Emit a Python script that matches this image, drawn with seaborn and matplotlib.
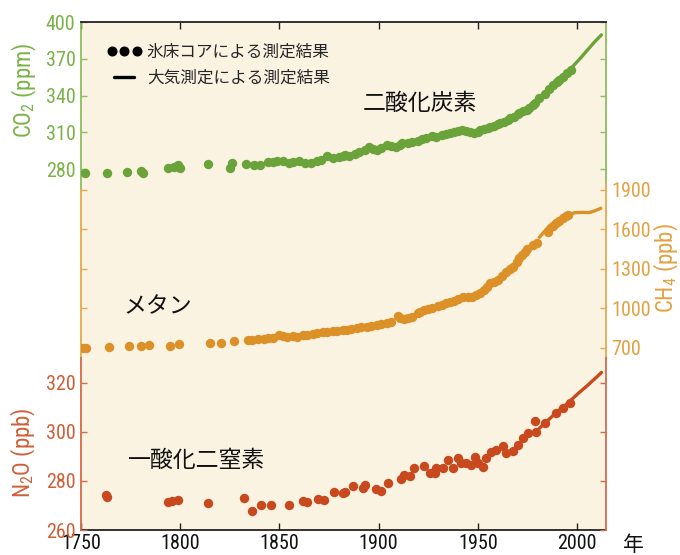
import matplotlib
matplotlib.use("Agg")
import matplotlib.pyplot as plt
from matplotlib import font_manager
from matplotlib.lines import Line2D
from matplotlib.legend_handler import HandlerLine2D
import pandas as pd
import seaborn as sns

# ---- CO2 (ppm) ----
co2_core_year = [1752, 1763, 1773, 1780, 1781, 1794, 1797, 1799, 1800, 1814, 1825, 1826,
                 1833, 1837, 1840, 1844, 1847, 1849, 1852, 1855, 1857, 1860, 1863, 1866,
                 1869, 1871, 1874, 1877, 1880, 1882, 1883, 1885, 1888, 1890, 1893, 1895,
                 1897, 1899, 1901, 1904, 1906, 1909, 1911, 1912, 1915, 1917, 1920, 1922,
                 1924, 1927, 1929, 1932, 1934, 1936, 1938, 1940, 1942, 1944, 1946, 1948,
                 1950, 1951, 1953, 1955, 1956, 1958, 1960, 1961, 1963, 1965, 1966, 1968,
                 1970, 1971, 1973, 1975, 1976, 1978, 1979, 1981, 1984, 1986, 1988, 1990,
                 1991, 1993, 1995, 1997]
co2_core_val = [277.0, 276.5, 277.5, 278.4, 277.0, 281.0, 281.5, 283.0, 281.0, 283.8, 280.8, 284.7,
                284.0, 283.3, 283.5, 285.5, 285.8, 286.5, 286.5, 285.0, 286.0, 286.5, 285.0, 285.0,
                286.5, 287.0, 290.6, 288.7, 289.5, 290.6, 291.4, 290.6, 292.0, 294.1, 295.5, 298.2,
                296.5, 295.5, 297.5, 299.6, 298.5, 298.2, 300.0, 301.0, 301.5, 302.3, 303.0, 304.2,
                305.0, 307.0, 306.5, 307.8, 308.5, 309.5, 310.5, 311.0, 311.8, 310.8, 310.0, 309.7,
                310.5, 311.8, 312.5, 313.5, 314.5, 315.0, 316.5, 317.3, 318.5, 320.0, 321.4, 322.5,
                324.5, 325.5, 327.0, 328.5, 329.5, 332.0, 333.6, 338.0, 341.2, 345.0, 348.5, 351.0,
                353.0, 355.4, 358.5, 360.8]
co2_air_year = [1958, 1962, 1966, 1970, 1974, 1978, 1982, 1986, 1990, 1994, 1998, 2002, 2006, 2009, 2012.3]
co2_air_val = [314.5, 317.5, 321.0, 325.0, 329.5, 334.0, 339.5, 345.5, 351.5, 357.5, 364.0, 371.0, 378.5, 384.0, 389.5]

# ---- CH4 (ppb) ----
ch4_core_year = [1751, 1752.5, 1764, 1774, 1780, 1784.5, 1795, 1799.5, 1815, 1820.5, 1827, 1834,
                 1836, 1839, 1842, 1844, 1847, 1850, 1852, 1854, 1857, 1859, 1862, 1864,
                 1867, 1869, 1872, 1874, 1877, 1879, 1882, 1884, 1886, 1889, 1891, 1894,
                 1896, 1899, 1901, 1904, 1906, 1910, 1911, 1913, 1915, 1917, 1920, 1921,
                 1923, 1925, 1927, 1930, 1932, 1934, 1936, 1938, 1940, 1942.5, 1945, 1947,
                 1949, 1951, 1953, 1954.5, 1956, 1958, 1960, 1962, 1964.4, 1966, 1967.7, 1969.5,
                 1971, 1972.5, 1973.6, 1975, 1977.8, 1980, 1985.4, 1988, 1989.6, 1991, 1993, 1994.5,
                 1995.5]
ch4_core_val = [698, 698, 705, 717, 715, 723, 715, 728, 736, 740, 753, 760,
                763, 768, 770, 774, 778, 799, 790, 787, 790, 786, 795, 799,
                806, 812, 818, 824, 826, 829, 835, 837, 843, 850, 856, 862,
                868, 875, 882, 888, 895, 943, 930, 918, 925, 938, 963, 975,
                989, 995, 1002, 1019, 1030, 1039, 1048, 1057, 1070, 1085, 1088, 1090,
                1100, 1115, 1140, 1165, 1191, 1200, 1216, 1245, 1279, 1300, 1317, 1350,
                1381, 1410, 1431, 1450, 1482, 1495, 1583, 1625, 1647, 1665, 1685, 1700,
                1710]
ch4_air_year = [1981, 1983, 1986, 1990, 1993, 1996, 1999, 2003, 2006, 2009, 2012]
ch4_air_val = [1540, 1575, 1628, 1662, 1692, 1714, 1728, 1730, 1728, 1742, 1761]

# ---- N2O (ppb) ----
n2o_core_year = [1762.6, 1763, 1794, 1796, 1799, 1814, 1832.3, 1836, 1840.7, 1845.8, 1855, 1861.7,
                 1864, 1869.6, 1872.6, 1877.7, 1882, 1883, 1887, 1892, 1893, 1898.8, 1901.3, 1904.7,
                 1911.5, 1913, 1915.6, 1918, 1923, 1925.7, 1928.3, 1929, 1932.5, 1935, 1937.5, 1940,
                 1941.7, 1944.2, 1946.7, 1948.4, 1950, 1952.6, 1954.3, 1956.8, 1959.3, 1962.7, 1964.4, 1967.7,
                 1970.2, 1972.8, 1975.3, 1978.7, 1979.5, 1983.7, 1989.6, 1993, 1996.3]
n2o_core_val = [274.3, 273.3, 271.5, 271.8, 272.2, 271.1, 272.9, 267.8, 270.2, 270.2, 270.2, 272.0,
                271.6, 272.5, 272.2, 275.4, 275.2, 275.6, 278.0, 277.0, 278.4, 276.6, 276.0, 279.3,
                280.7, 282.4, 282.0, 285.4, 286.0, 283.1, 283.4, 285.2, 285.2, 288.6, 285.2, 289.3,
                287.2, 287.2, 286.5, 289.9, 287.2, 285.8, 289.3, 292.0, 292.6, 294.3, 291.3, 292.4,
                294.7, 297.4, 299.7, 304.5, 300.1, 303.5, 307.6, 309.7, 311.9]
n2o_air_year = [1981, 1985, 1990, 1995, 2000, 2005, 2010, 2012.3]
n2o_air_val = [301.5, 304.5, 308.3, 311.5, 315.3, 318.8, 322.5, 324.3]

x_ticks = [1750, 1800, 1850, 1900, 1950, 2000]
co2_ticks = [280, 310, 340, 370, 400]
ch4_ticks = [700, 1000, 1300, 1600, 1900]
n2o_ticks = [260, 280, 300, 320]

legend_labels = ["氷床コアによる測定結果", "大気測定による測定結果"]
gas_names = ["二酸化炭素", "メタン", "一酸化二窒素"]

# ---- fonts: prefer a narrow sans for numbers if one is installed ----
installed = {f.name for f in font_manager.fontManager.ttflist}
narrow = None
for cand in ("Liberation Sans Narrow", "Roboto Condensed", "Open Sans Condensed",
             "Noto Sans Condensed", "DejaVu Sans Condensed", "Arial Narrow"):
    if cand in installed:
        narrow = cand
        break
condensed_dejavu = any(f.name == "DejaVu Sans" and f.stretch in ("condensed", "semi-condensed")
                       for f in font_manager.fontManager.ttflist)

sns.set_style("white")
if narrow:
    NUM_FAMILY = [narrow, "DejaVu Sans"]
    NUM_STRETCH = "normal"
    TICK_FS = 14.5
elif condensed_dejavu:
    NUM_FAMILY = ["DejaVu Sans"]
    NUM_STRETCH = "condensed"
    TICK_FS = 13
else:
    NUM_FAMILY = ["Noto Sans", "DejaVu Sans"]
    NUM_STRETCH = "normal"
    TICK_FS = 13
plt.rcParams["font.family"] = NUM_FAMILY
plt.rcParams["font.stretch"] = NUM_STRETCH
plt.rcParams["mathtext.fontset"] = "custom"
plt.rcParams["mathtext.rm"] = NUM_FAMILY[0]
plt.rcParams["mathtext.it"] = NUM_FAMILY[0] + ":italic"
plt.rcParams["mathtext.bf"] = NUM_FAMILY[0] + ":bold"

JP = ["Noto Sans CJK JP", "DejaVu Sans"]
BG = "#FBF3E2"
G_MARK, G_TEXT, G_SPINE = "#6BA33B", "#7BB247", "#8CBE5E"
O_MARK, O_TEXT, O_SPINE = "#DB9128", "#E2A244", "#E6A94C"
R_MARK, R_TEXT, R_SPINE = "#C8491D", "#CF5F37", "#D46A4A"
XLIM = (1750, 2014.6)
TITLE_FS = 16.5

fig = plt.figure(figsize=(6.8, 5.55), dpi=100)
rect = [81 / 680, 25 / 555, 525 / 680, 508 / 555]
ax_co2 = fig.add_axes(rect, label="co2")
ax_ch4 = fig.add_axes(rect, label="ch4", facecolor="none")
ax_n2o = fig.add_axes(rect, label="n2o", facecolor="none")
ax_co2.set_facecolor(BG)

co2_core = pd.DataFrame({"year": co2_core_year, "value": co2_core_val})
co2_air = pd.DataFrame({"year": co2_air_year, "value": co2_air_val})
ch4_core = pd.DataFrame({"year": ch4_core_year, "value": ch4_core_val})
ch4_air = pd.DataFrame({"year": ch4_air_year, "value": ch4_air_val})
n2o_core = pd.DataFrame({"year": n2o_core_year, "value": n2o_core_val})
n2o_air = pd.DataFrame({"year": n2o_air_year, "value": n2o_air_val})

series = [
    (ax_co2, co2_core, co2_air, G_MARK),
    (ax_ch4, ch4_core, ch4_air, O_MARK),
    (ax_n2o, n2o_core, n2o_air, R_MARK),
]
for ax, core, air, col in series:
    sns.lineplot(data=air, x="year", y="value", ax=ax, color=col, linewidth=2.4, zorder=2)
    sns.scatterplot(data=core, x="year", y="value", ax=ax, color=col, s=46,
                    linewidth=0, zorder=3)
    ax.set_xlim(*XLIM)
    ax.set_xlabel("")
    ax.set_ylabel("")

# each gas gets its own vertical band of the shared frame
ax_co2.set_ylim(-14.69, 400)
ax_ch4.set_ylim(-682.3, 3175.9)
ax_n2o.set_ylim(260, 467.3)

# CO2 axis: left labels, frame top/bottom with year ticks
ax_co2.set_yticks(co2_ticks)
ax_co2.tick_params(axis="y", left=True, right=True, labelleft=True, labelright=False,
                   direction="in", length=4, width=1, color=G_SPINE, labelcolor=G_TEXT,
                   labelsize=TICK_FS, pad=4)
ax_co2.set_xticks(x_ticks)
ax_co2.tick_params(axis="x", top=True, bottom=True, labeltop=False, labelbottom=True,
                   direction="in", length=5, width=1, color="#222222", labelcolor="#111111",
                   labelsize=TICK_FS, pad=3)
ax_co2.spines["left"].set_bounds(262.9, 400)
ax_co2.spines["right"].set_bounds(268.6, 400)
for s in ("left", "right"):
    ax_co2.spines[s].set_color(G_SPINE)
    ax_co2.spines[s].set_linewidth(1.3)
for s in ("top", "bottom"):
    ax_co2.spines[s].set_color("#222222")
    ax_co2.spines[s].set_linewidth(1.3)

# CH4 axis: right labels
ax_ch4.set_yticks(ch4_ticks)
ax_ch4.tick_params(axis="y", left=True, right=True, labelleft=False, labelright=True,
                   direction="in", length=4, width=1, color=O_SPINE, labelcolor=O_TEXT,
                   labelsize=TICK_FS, pad=4)
ax_ch4.set_xticks([])
ax_ch4.spines["left"].set_bounds(624, 1900)
ax_ch4.spines["right"].set_bounds(624, 1953)

# N2O axis: left labels
ax_n2o.set_yticks(n2o_ticks)
ax_n2o.tick_params(axis="y", left=True, right=True, labelleft=True, labelright=False,
                   direction="in", length=4, width=1, color=R_SPINE, labelcolor=R_TEXT,
                   labelsize=TICK_FS, pad=4)
ax_n2o.set_xticks([])
ax_n2o.spines["left"].set_bounds(260, 330.2)
ax_n2o.spines["right"].set_bounds(260, 330.2)

for ax, col in ((ax_ch4, O_SPINE), (ax_n2o, R_SPINE)):
    ax.spines["top"].set_visible(False)
    ax.spines["bottom"].set_visible(False)
    for s in ("left", "right"):
        ax.spines[s].set_color(col)
        ax.spines[s].set_linewidth(1.3)

# axis titles
fig.text(24 / 680, 1 - 90 / 555, "CO$_2$ (ppm)", rotation=90, ha="center", va="center",
         color=G_TEXT, fontsize=TITLE_FS)
fig.text(666 / 680, 1 - 268 / 555, "CH$_4$ (ppb)", rotation=90, ha="center", va="center",
         color=O_TEXT, fontsize=TITLE_FS)
fig.text(23 / 680, 1 - 453 / 555, "N$_2$O (ppb)", rotation=90, ha="center", va="center",
         color=R_TEXT, fontsize=TITLE_FS)
fig.text(633 / 680, 1 - 545 / 555, "年", ha="center", va="center", color="#111111",
         fontsize=15, family=JP)

# gas names
ax_co2.text(1920.6, 333.9, gas_names[0], ha="center", va="center", fontsize=16.5,
            family=JP, color="#111111")
ax_ch4.text(1788.6, 1011, gas_names[1], ha="center", va="center", fontsize=16.5,
            family=JP, color="#111111")
ax_n2o.text(1808.5, 288.6, gas_names[2], ha="center", va="center", fontsize=16.5,
            family=JP, color="#111111")

# legend
dot_handle = Line2D([0], [0], ls="none", marker="o", color="black", markersize=6.2)
line_handle = Line2D([0], [0], color="black", linewidth=2.4)
leg = ax_n2o.legend([dot_handle, line_handle], legend_labels, loc="upper left",
                    bbox_to_anchor=(0.054, 0.958), frameon=False, numpoints=3,
                    handlelength=1.8, handletextpad=0.45, labelspacing=0.55,
                    borderpad=0, borderaxespad=0, prop={"family": JP, "size": 12},
                    handler_map={dot_handle: HandlerLine2D(marker_pad=0.15, numpoints=3)})

fig.savefig("out.png", dpi=100, facecolor="white")
